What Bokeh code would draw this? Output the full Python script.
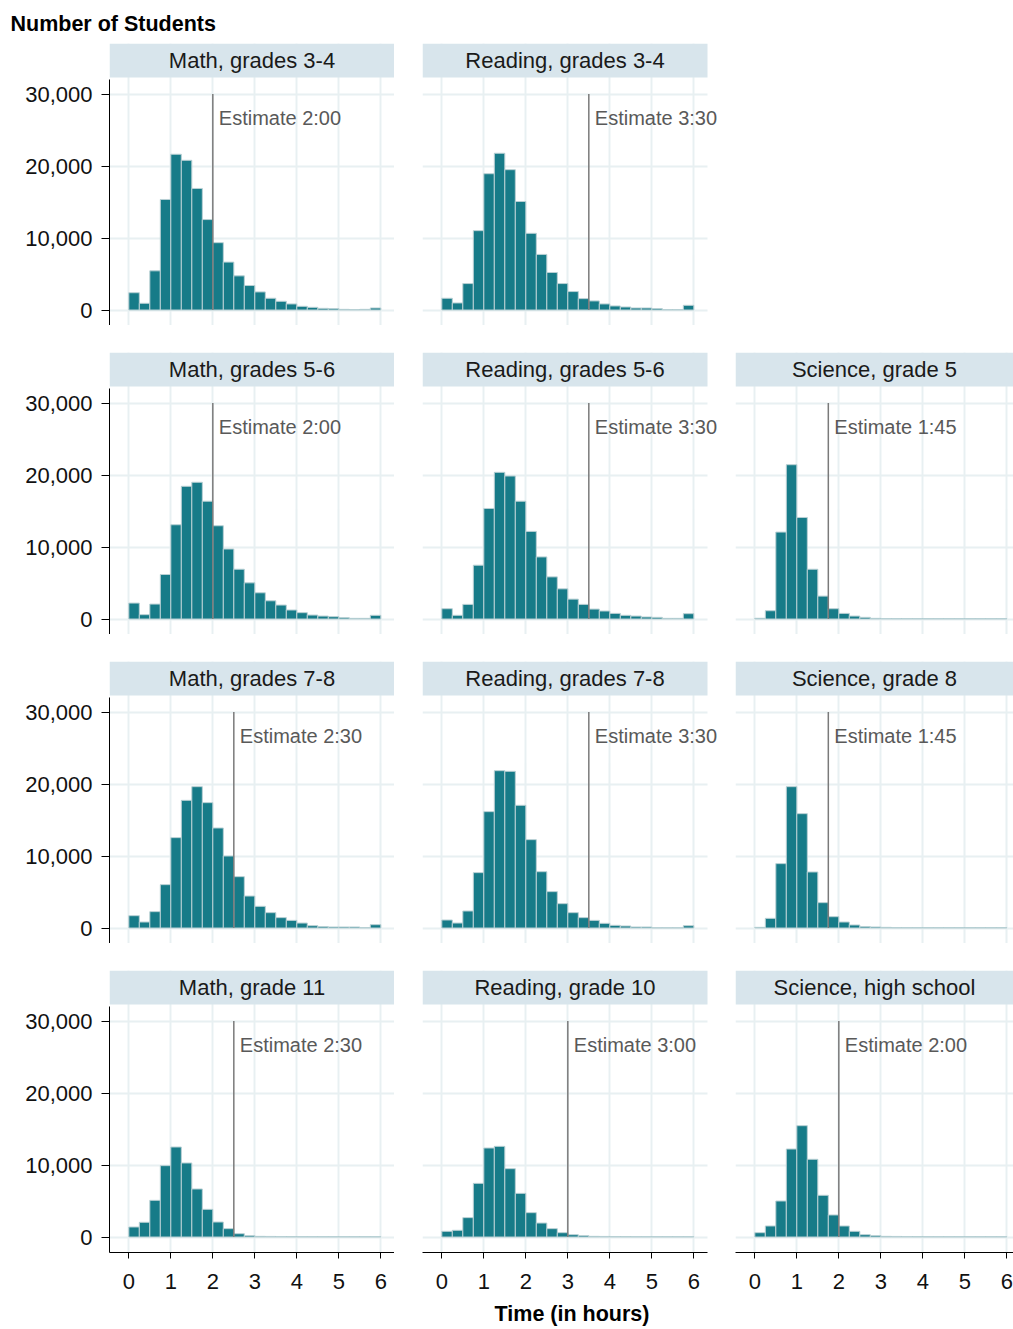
from bokeh.plotting import figure
from bokeh.layouts import column, row, Spacer
from bokeh.models import (Range1d, LinearAxis, FixedTicker, NumeralTickFormatter,
                          Grid, BoxAnnotation, Label)
from bokeh.embed import file_html
from bokeh.resources import INLINE

# ---------------- data (counts per 15-minute bin, 0 to 6 hours) ----------------
BIN_WIDTH = 0.25
N_BINS = 24
bin_left = [i * BIN_WIDTH for i in range(N_BINS)]
bin_right = [(i + 1) * BIN_WIDTH for i in range(N_BINS)]

math_3_4 = [2400, 930, 5440, 15350, 21630, 20790, 16880, 12560, 9350, 6650, 4740, 3400,
            2510, 1630, 1210, 840, 510, 370, 230, 190, 90, 50, 90, 280]
reading_3_4 = [1630, 980, 3670, 11020, 18930, 21770, 19490, 15070, 10650, 7720, 5210, 3670,
               2560, 1580, 1260, 840, 560, 420, 280, 280, 190, 50, 50, 650]
math_5_6 = [2210, 600, 2070, 6180, 13090, 18430, 18990, 16360, 12950, 9720, 6910, 5020,
            3640, 2530, 1940, 1250, 880, 550, 410, 320, 180, 90, 90, 510]
reading_5_6 = [1430, 510, 2030, 7470, 15350, 20370, 19860, 16360, 12170, 8620, 5850, 4190,
               2760, 2030, 1380, 1110, 780, 510, 410, 280, 230, 90, 90, 740]
science_5 = [100, 1150, 12070, 21430, 14100, 6910, 3180, 1430, 780, 410, 230, 90,
             70, 60, 60, 50, 50, 50, 50, 50, 50, 50, 50, 50]
math_7_8 = [1710, 830, 2270, 6020, 12550, 17730, 19630, 17410, 13890, 10000, 7130, 4440,
            3010, 2130, 1440, 1060, 690, 320, 190, 140, 140, 140, 50, 460]
reading_7_8 = [1110, 690, 2360, 7690, 16160, 21850, 21760, 17040, 12270, 7820, 5050, 3380,
               2130, 1440, 1060, 650, 370, 280, 140, 140, 30, 30, 30, 320]
science_8 = [90, 1340, 8940, 19630, 15880, 7780, 3520, 1570, 830, 420, 190, 140,
             90, 50, 50, 50, 50, 50, 50, 50, 50, 50, 50, 50]
math_11 = [1390, 2040, 5090, 9910, 12500, 10280, 6670, 3840, 2080, 1160, 460, 190,
           90, 80, 70, 60, 50, 50, 50, 50, 50, 50, 50, 50]
reading_10 = [790, 930, 2690, 7450, 12360, 12590, 9490, 6060, 3380, 1940, 1160, 600,
              320, 190, 90, 80, 70, 60, 50, 50, 50, 50, 50, 50]
science_hs = [600, 1530, 5000, 12220, 15460, 10790, 5790, 3060, 1530, 790, 320, 190,
              90, 80, 70, 60, 50, 50, 50, 50, 50, 50, 50, 50]

panel_titles = [
    ["Math, grades 3-4", "Reading, grades 3-4", None],
    ["Math, grades 5-6", "Reading, grades 5-6", "Science, grade 5"],
    ["Math, grades 7-8", "Reading, grades 7-8", "Science, grade 8"],
    ["Math, grade 11", "Reading, grade 10", "Science, high school"],
]
panel_counts = [
    [math_3_4, reading_3_4, None],
    [math_5_6, reading_5_6, science_5],
    [math_7_8, reading_7_8, science_8],
    [math_11, reading_10, science_hs],
]
estimate_hours = [
    [2.0, 3.5, None],
    [2.0, 3.5, 1.75],
    [2.5, 3.5, 1.75],
    [2.5, 3.0, 2.0],
]
estimate_labels = [
    ["2:00", "3:30", None],
    ["2:00", "3:30", "1:45"],
    ["2:30", "3:30", "1:45"],
    ["2:30", "3:00", "2:00"],
]

x_ticks = [0, 1, 2, 3, 4, 5, 6]
y_ticks = [0, 10000, 20000, 30000]

# ---------------- styling ----------------
FONT = "Liberation Sans"
BAR_FILL = "#177b88"
BAR_LINE = "#b9d0d4"
GRID_COLOR = "#e8f0f2"
STRIP_COLOR = "#d8e5ec"
EST_LINE = "#7a7a7a"
EST_TEXT = "#595959"

PX_PER_HOUR = 42.0
PX_PER_UNIT = 72.0 / 10000.0
FRAME_H = 282
X_START = -0.46
Y_START = -15.5 / PX_PER_UNIT
Y_END = Y_START + FRAME_H / PX_PER_UNIT
STRIP_BOTTOM = Y_END - 34 / PX_PER_UNIT
AXIS_TOP = 32000
EST_TEXT_Y = 26600

# column geometry: (left border, panel width, extra frame room on the right)
COLS = [(109, 285, 0), (28, 285, 14), (14, 278, 0)]


def make_panel(r, c):
    bl, panel_w, extra = COLS[c]
    frame_w = panel_w + extra
    bt = 43 if r == 0 else 27
    bb = 77 if r == 3 else 0
    panel_end = X_START + panel_w / PX_PER_HOUR
    x_end = X_START + frame_w / PX_PER_HOUR
    p = figure(width=bl + frame_w, height=bt + FRAME_H + bb,
               x_range=Range1d(X_START, x_end), y_range=Range1d(Y_START, Y_END),
               x_axis_location=None, y_axis_location=None,
               toolbar_location=None, output_backend="svg",
               min_border_left=bl, min_border_right=0,
               min_border_top=bt, min_border_bottom=bb,
               background_fill_color="white", border_fill_color="white")
    p.outline_line_color = None
    p.center = []
    p.add_layout(Grid(dimension=0, ticker=FixedTicker(ticks=x_ticks),
                      grid_line_color=GRID_COLOR, grid_line_width=2), "center")
    p.add_layout(Grid(dimension=1, ticker=FixedTicker(ticks=y_ticks),
                      cross_bounds=(X_START, panel_end),
                      grid_line_color=GRID_COLOR, grid_line_width=2), "center")

    counts = panel_counts[r][c]
    p.quad(left=bin_left, right=bin_right, bottom=0, top=counts,
           fill_color=BAR_FILL, line_color=BAR_LINE, line_width=1)

    est = estimate_hours[r][c]
    p.segment(x0=[est], y0=[y_ticks[0]], x1=[est], y1=[y_ticks[-1]],
              line_color=EST_LINE, line_width=1.5)
    p.add_layout(Label(x=est, y=EST_TEXT_Y, x_offset=6,
                       text="Estimate " + estimate_labels[r][c],
                       text_baseline="middle", text_align="left",
                       text_font=FONT, text_font_size="20px", text_color=EST_TEXT))

    # facet strip
    p.add_layout(BoxAnnotation(bottom=STRIP_BOTTOM, left=X_START, right=panel_end,
                               fill_color=STRIP_COLOR, fill_alpha=1.0,
                               line_color=None, line_alpha=0))
    p.add_layout(Label(x=(X_START + panel_end) / 2, y=(STRIP_BOTTOM + Y_END) / 2,
                       text=panel_titles[r][c], text_align="center", text_baseline="middle",
                       text_font=FONT, text_font_size="22px", text_color="#1a1a1a"))

    if c == 0:
        ya = LinearAxis(ticker=FixedTicker(ticks=y_ticks),
                        formatter=NumeralTickFormatter(format="0,0"),
                        bounds=(Y_START, AXIS_TOP),
                        major_tick_out=8, major_tick_in=0,
                        minor_tick_out=0, minor_tick_in=0,
                        major_label_standoff=9,
                        major_label_text_font=FONT, major_label_text_font_size="22px",
                        major_label_text_color="#111111",
                        axis_line_color="black", axis_line_width=1,
                        major_tick_line_color="black", major_tick_line_width=1)
        p.add_layout(ya, "left")
    if r == 3:
        xa = LinearAxis(ticker=FixedTicker(ticks=x_ticks),
                        bounds=(X_START, panel_end),
                        major_tick_out=6, major_tick_in=0,
                        minor_tick_out=0, minor_tick_in=0,
                        major_label_standoff=15,
                        major_label_text_font=FONT, major_label_text_font_size="22px",
                        major_label_text_color="#111111",
                        axis_line_color="black", axis_line_width=1,
                        major_tick_line_color="black", major_tick_line_width=1)
        if c == 1:
            xa.axis_label = "Time (in hours)"
            xa.axis_label_text_font = FONT
            xa.axis_label_text_font_size = "21.5px"
            xa.axis_label_text_font_style = "bold"
            xa.axis_label_text_color = "black"
            xa.axis_label_standoff = 10
        p.add_layout(xa, "below")

    if r == 0 and c == 0:
        p.title.text = "Number of Students"
        p.title.align = "left"
        p.title.offset = -99
        p.title.standoff = 15
        p.title.text_font = FONT
        p.title.text_font_size = "21.5px"
        p.title.text_font_style = "bold"
        p.title.text_color = "black"
    return p


rows = []
for r in range(4):
    items = []
    for c in range(3):
        if panel_counts[r][c] is None:
            bl, panel_w, extra = COLS[c]
            items.append(Spacer(width=bl + panel_w + extra, height=43 + FRAME_H))
        else:
            items.append(make_panel(r, c))
    rows.append(row(*items, spacing=0))

layout = column(*rows, spacing=0)

open("out.html", "w").write(file_html(layout, INLINE))
